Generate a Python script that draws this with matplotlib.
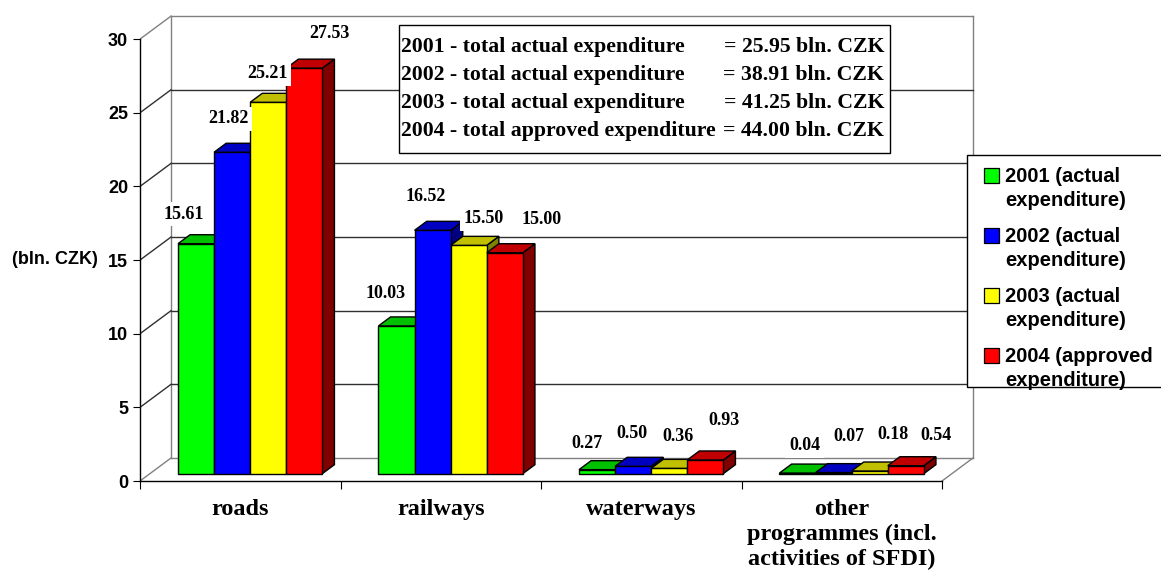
import matplotlib
matplotlib.use('Agg')
import matplotlib.pyplot as plt
from matplotlib.patches import Polygon, Rectangle
from matplotlib.transforms import Affine2D

# ---------------- data ----------------
categories = ['roads', 'railways', 'waterways',
              'other\nprogrammes (incl.\nactivities of SFDI)']
series_names = ['2001 (actual\nexpenditure)', '2002 (actual\nexpenditure)',
                '2003 (actual\nexpenditure)', '2004 (approved\nexpenditure)']
v2001 = [15.61, 10.03, 0.27, 0.04]
v2002 = [21.82, 16.52, 0.50, 0.07]
v2003 = [25.21, 15.50, 0.36, 0.18]
v2004 = [27.53, 15.00, 0.93, 0.54]
total_labels = ['2001 - total actual expenditure',
                '2002 - total actual expenditure',
                '2003 - total actual expenditure',
                '2004 - total approved expenditure']
total_values = [25.95, 38.91, 41.25, 44.00]
y_ticks = [0, 5, 10, 15, 20, 25, 30]
y_label = '(bln. CZK)'

# label nudges (pixels, relative to bar front-top centre), per series x category
label_nudges = [
    [(-12, 31), (-11, 34), (-10, 28), (7, 29)],
    [(-4, 35), (-7, 35), (-1, 34), (15, 38)],
    [(-1, 30), (15, 28), (9, 33), (23, 38)],
    [(25, 36), (37, 35), (19, 41), (30, 32)],
]

# ---------------- style ----------------
front_colors = ['#00FF00', '#0000FF', '#FFFF00', '#FF0000']
top_colors = ['#00C000', '#0000C0', '#C0C000', '#C00000']
side_colors = ['#008000', '#000080', '#808000', '#800000']
SANS = 'Liberation Sans'
SERIF = 'Liberation Serif'
plt.rcParams['font.family'] = [SANS, 'DejaVu Sans']
plt.rcParams['font.weight'] = 'bold'

W, H = 1161, 580
fig = plt.figure(figsize=(W / 100, H / 100), dpi=100)
PIX = Affine2D().scale(1, -1).translate(0, H)  # top-left pixel coords

XS, YS = 200.5, 14.73          # px per category unit / value unit
X0PX, Y0PX = 140, 481
ax = fig.add_axes([X0PX / W, (H - Y0PX) / H, 4.2 * XS / W, 32 * YS / H])
ax.set_xlim(0, 4.2)
ax.set_ylim(0, 32)
ax.patch.set_visible(False)

DX, DY = 31 / XS, 23 / YS      # full depth offset in data units
F_FRONT, F_BACK = 0.32, 0.71   # bar depth range


def P(x, y, f):
    return (x + f * DX, y + f * DY)


ncat = len(categories)
ymax = y_ticks[-1]
wall = '#808080'
grid = '#303030'

# back wall + left wall + floor
ax.add_line(plt.Line2D(*zip(P(0, 0, 1), P(0, ymax, 1)), color=wall, lw=1, zorder=1))
ax.add_line(plt.Line2D(*zip(P(ncat, 0, 1), P(ncat, ymax, 1)), color=wall, lw=1, zorder=1))
ax.add_line(plt.Line2D(*zip(P(ncat, 0, 0), P(ncat, 0, 1)), color=wall, lw=1, zorder=1))
for v in y_ticks:
    c = wall if v in (0, ymax) else grid
    ax.add_line(plt.Line2D(*zip(P(0, v, 1), P(ncat, v, 1)), color=c, lw=1, zorder=1))
    ax.add_line(plt.Line2D(*zip(P(0, v, 0), P(0, v, 1)), color=c, lw=1, zorder=1))

# bars
series = [v2001, v2002, v2003, v2004]
bw = 0.18
gstart = 0.5 - bw * len(series) / 2
for i in range(ncat):
    for j, vals in enumerate(series):
        v = vals[i]
        x0 = i + gstart + j * bw
        x1 = x0 + bw
        side = [P(x1, 0, F_FRONT), P(x1, 0, F_BACK), P(x1, v, F_BACK), P(x1, v, F_FRONT)]
        front = [P(x0, 0, F_FRONT), P(x1, 0, F_FRONT), P(x1, v, F_FRONT), P(x0, v, F_FRONT)]
        top = [P(x0, v, F_FRONT), P(x1, v, F_FRONT), P(x1, v, F_BACK), P(x0, v, F_BACK)]
        z = 3 + i * 0.1 + j * 0.01
        for poly, col in ((side, side_colors[j]), (front, front_colors[j]), (top, top_colors[j])):
            ax.add_patch(Polygon(poly, closed=True, facecolor=col, edgecolor='black',
                                 lw=1.0, zorder=z, joinstyle='miter'))

# data labels
for i in range(ncat):
    for j, vals in enumerate(series):
        v = vals[i]
        x0 = i + gstart + j * bw
        dxp, dyp = label_nudges[j][i]
        ax.annotate(f'{v:.2f}', xy=P(x0 + bw / 2, v, F_FRONT),
                    xytext=(dxp, dyp - 6), textcoords='offset pixels',
                    ha='center', va='baseline', fontsize=13, family=SERIF,
                    fontweight='bold', zorder=10,
                    bbox=dict(boxstyle='square,pad=0.2', fc='white', ec='none'))

# axes spines / ticks
for s in ('top', 'right'):
    ax.spines[s].set_visible(False)
ax.spines['left'].set_bounds(0, ymax)
ax.spines['bottom'].set_bounds(0, ncat)
for s in ('left', 'bottom'):
    ax.spines[s].set_color('black')
    ax.spines[s].set_linewidth(1)
    ax.spines[s].set_zorder(2)
ax.set_yticks(y_ticks)
ax.set_yticklabels([str(t) for t in y_ticks])
ax.tick_params(axis='y', direction='out', length=5, width=0.8, labelsize=13, pad=3.5)
ax.set_xticks(range(ncat + 1))
ax.set_xticklabels([])
ax.tick_params(axis='x', which='major', direction='out', length=6, width=0.8)
ax.set_xticks([i + 0.5 for i in range(ncat)], minor=True)
ax.set_xticklabels(categories, minor=True, family=SERIF, fontsize=17.5,
                   fontweight='bold', linespacing=1.25)
ax.tick_params(axis='x', which='minor', length=0, pad=13)
for lab in ax.get_yticklabels():
    lab.set_fontweight('bold')

fig.text(55, 260, y_label, transform=PIX, ha='center', va='center',
         fontsize=13, fontweight='bold')

# totals box
fig.patches.append(Rectangle((399, 25), 491, 128, transform=PIX, fc='white',
                             ec='black', lw=1, zorder=20))
for k, (lab, val) in enumerate(zip(total_labels, total_values)):
    yb = 45 + k * 28 + 7
    fig.text(401, yb, lab, transform=PIX, ha='left', va='baseline', family=SERIF,
             fontsize=15.7, fontweight='bold', zorder=21)
    fig.text(884, yb, f'= {val:.2f} bln. CZK', transform=PIX, ha='right',
             va='baseline', family=SERIF, fontsize=15.7, fontweight='bold', zorder=21)

# legend
fig.patches.append(Rectangle((967, 155), 210, 232, transform=PIX, fc='white',
                             ec='black', lw=1, zorder=20))
for k, name in enumerate(series_names):
    yc = 175.5 + k * 60
    fig.patches.append(Rectangle((984, yc - 7.5), 15, 15, transform=PIX,
                                 fc=front_colors[k], ec='black', lw=0.9, zorder=21))
    for m, line in enumerate(name.split('\n')):
        fig.text(1005, yc + 7 + m * 23, line, transform=PIX, ha='left', va='baseline',
                 fontsize=14.5, fontweight='bold', zorder=21)

fig.savefig('out.png', dpi=100)
